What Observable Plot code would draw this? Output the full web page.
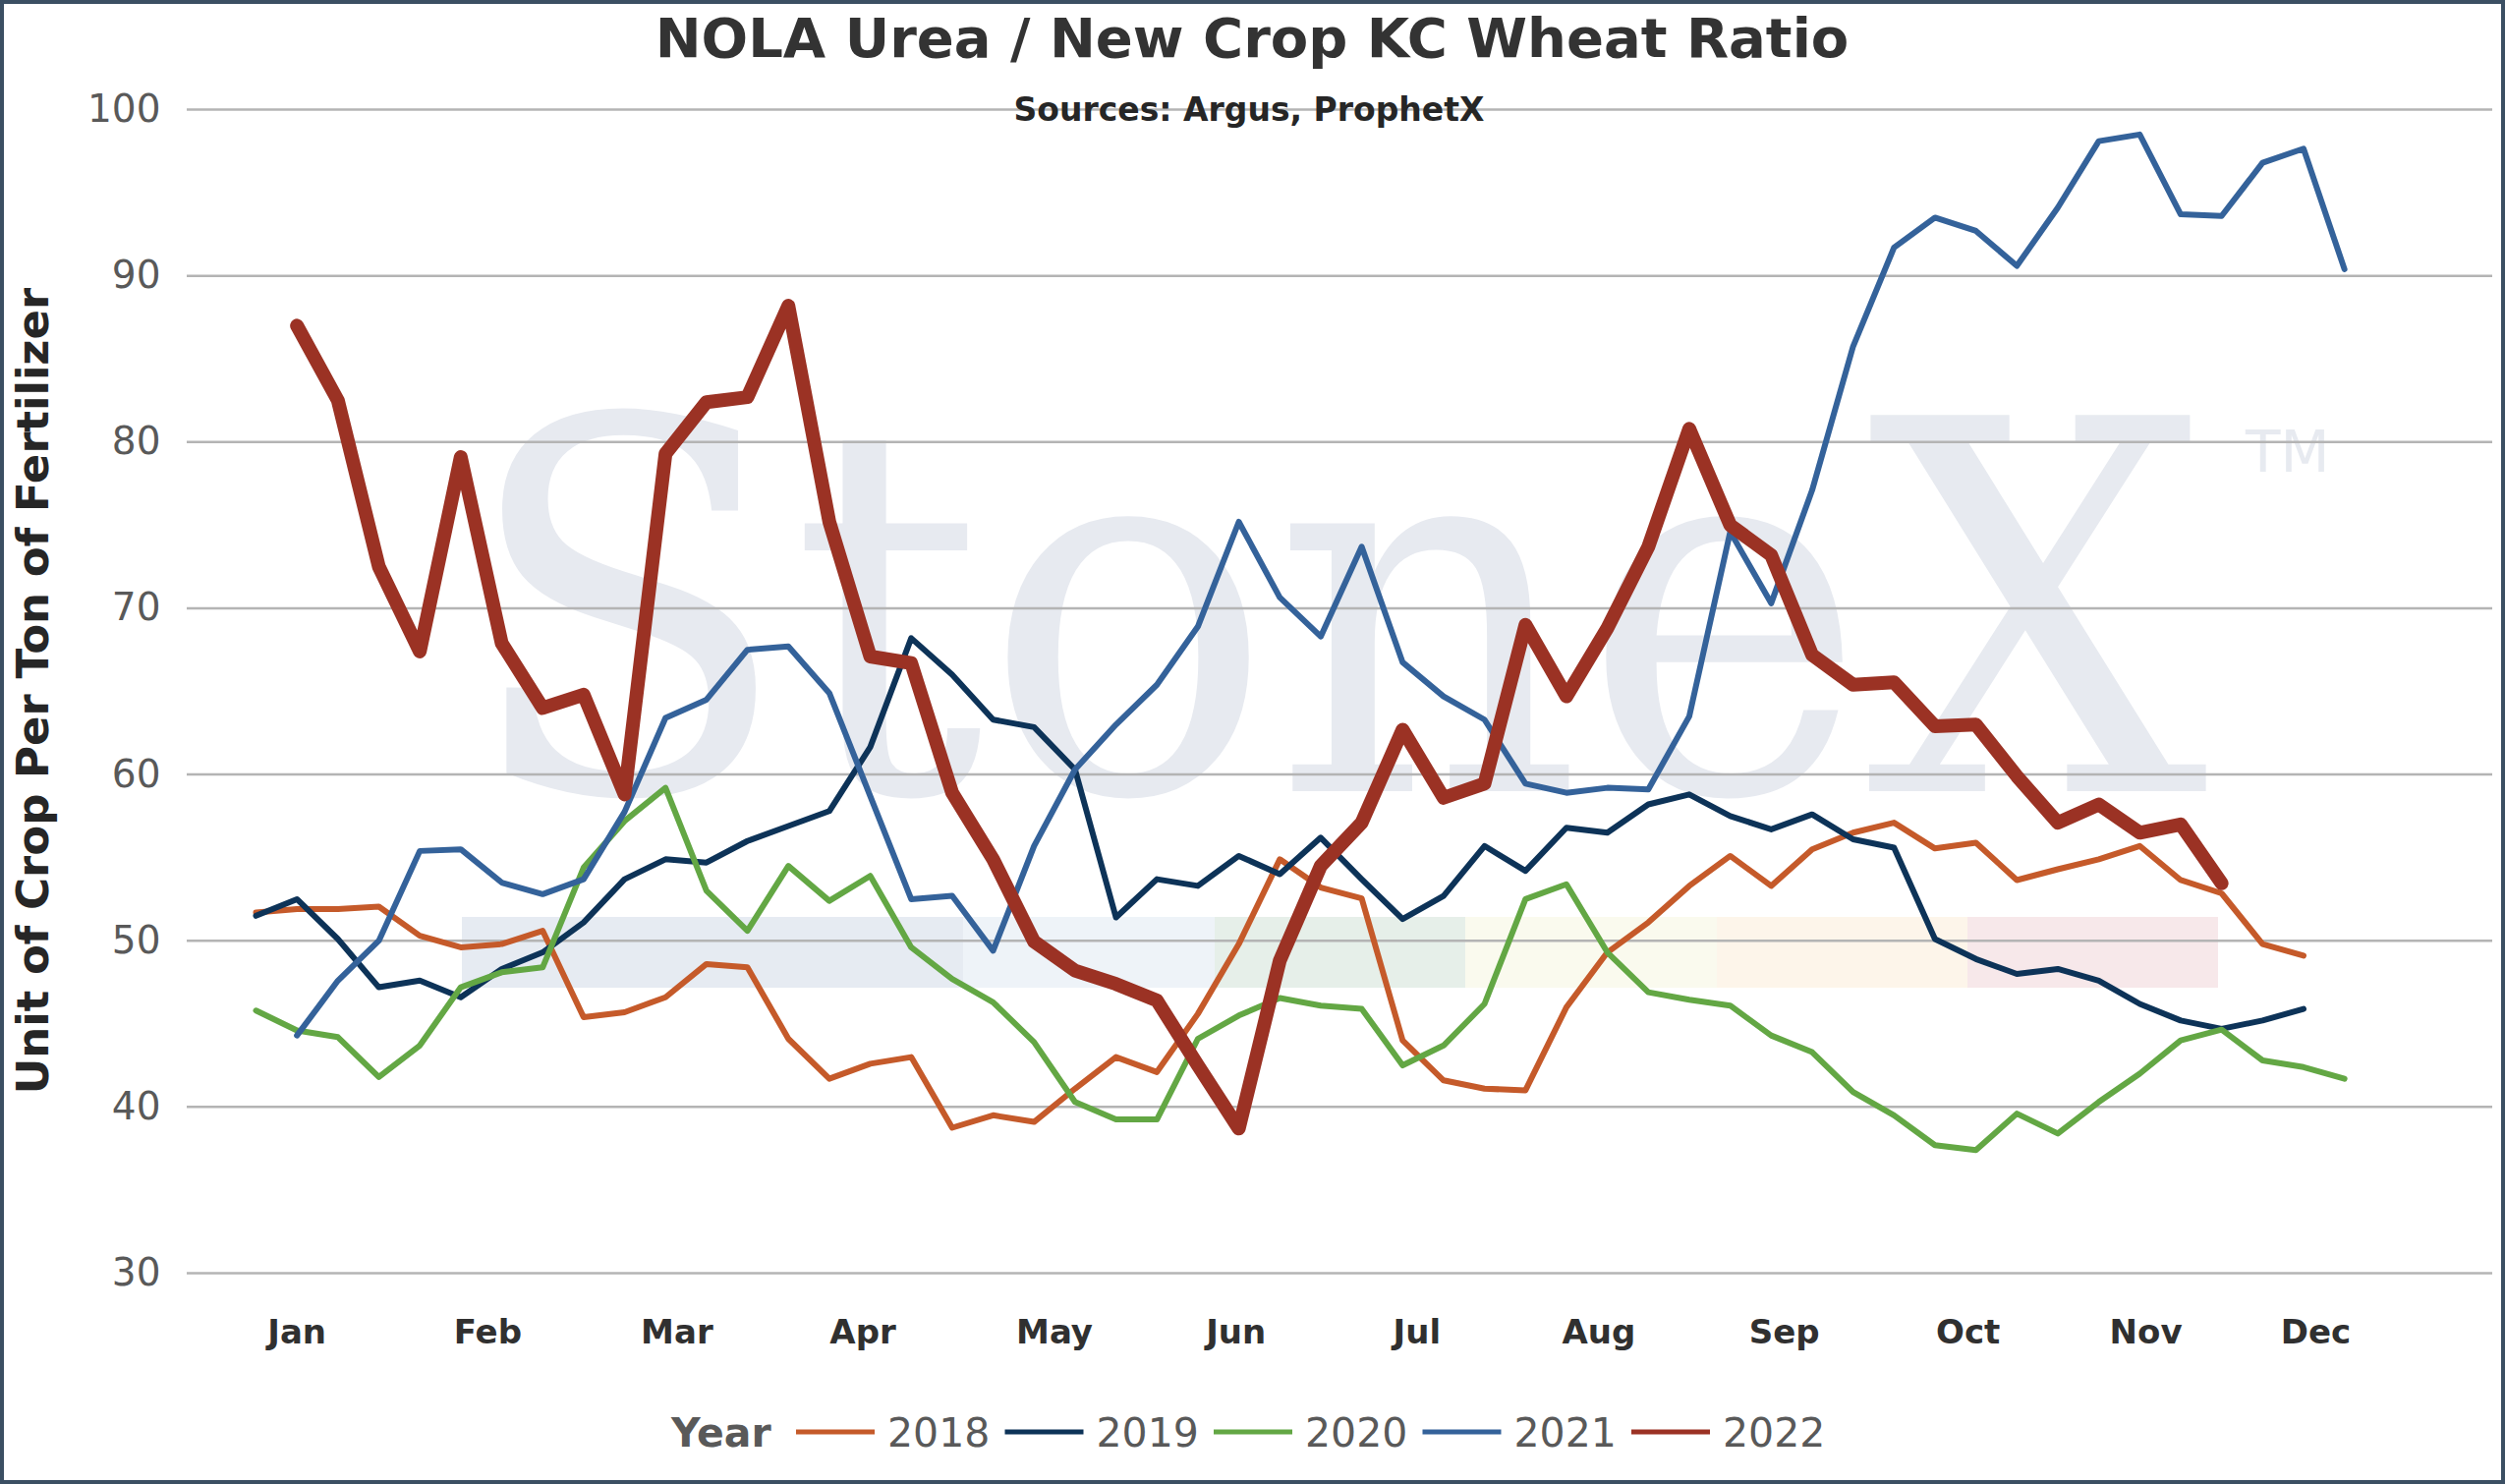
<!DOCTYPE html>
<html>
<head>
<meta charset="utf-8">
<script src="https://cdn.jsdelivr.net/npm/d3@7"></script>
<script src="https://cdn.jsdelivr.net/npm/@observablehq/plot@0.6"></script>
<style>
  html, body { margin: 0; padding: 0; background: #ffffff; }
  #chart { position: relative; width: 2549px; height: 1510px; overflow: hidden; background: #ffffff;
           font-family: "DejaVu Sans", Verdana, sans-serif; }
  #border { position: absolute; left: 0; top: 0; width: 2549px; height: 1510px; box-sizing: border-box;
            border: 4px solid #3b4f63; pointer-events: none; }
</style>
</head>
<body>
<div id="chart"></div>
<script>
// ---------------- data ----------------
const years  = ["2018", "2019", "2020", "2021", "2022"];
const colors = ["#c55a2a", "#0d3358", "#63a744", "#34629a", "#9b3224"];

// weekly values, index 0..51 (null = no value)
const v2018 = [51.7, 51.9, 51.9, 52.05, 50.3, 49.6, 49.8, 50.6, 45.4, 45.7,
               46.6, 48.6, 48.4, 44.1, 41.7, 42.6, 43.0, 38.75, 39.5, 39.1,
               41.1, 43.0, 42.1, 45.6, 49.8, 54.9, 53.2, 52.55, 44.0, 41.6,
               41.1, 41.0, 46.0, 49.3, 51.1, 53.3, 55.1, 53.3, 55.5, 56.5,
               57.1, 55.55, 55.9, 53.65, 54.3, 54.9, 55.7, 53.65, 52.85, 49.8,
               49.1, null];
const v2019 = [51.5, 52.5, 50.1, 47.2, 47.6, 46.6, 48.3, 49.3, 51.1, 53.7,
               54.9, 54.7, 56.0, 56.9, 57.8, 61.65, 68.2, 66.0, 63.3, 62.85,
               60.3, 51.4, 53.7, 53.3, 55.1, 54.0, 56.2, 53.7, 51.3, 52.7,
               55.7, 54.2, 56.8, 56.5, 58.2, 58.8, 57.5, 56.7, 57.6, 56.1,
               55.6, 50.1, 48.9, 48.0, 48.3, 47.6, 46.2, 45.2, 44.7, 45.2,
               45.9, null];
const v2020 = [45.8, 44.6, 44.2, 41.8, 43.7, 47.2, 48.1, 48.4, 54.4, 57.2,
               59.2, 53.0, 50.6, 54.5, 52.4, 53.9, 49.6, 47.7, 46.3, 43.9,
               40.3, 39.25, 39.25, 44.1, 45.5, 46.55, 46.1, 45.9, 42.5, 43.7,
               46.2, 52.5, 53.4, 49.3, 46.9, 46.45, 46.1, 44.3, 43.3, 40.9,
               39.5, 37.7, 37.4, 39.6, 38.4, 40.3, 42.0, 44.0, 44.65, 42.8,
               42.4, 41.7];
const v2021 = [null, 44.3, 47.6, 50.0, 55.4, 55.5, 53.5, 52.8, 53.7, 57.75,
               63.4, 64.5, 67.5, 67.7, 64.9, 58.7, 52.5, 52.7, 49.4, 55.7,
               60.3, 63.0, 65.4, 68.9, 75.2, 70.65, 68.3, 73.7, 66.75, 64.7,
               63.3, 59.45, 58.9, 59.2, 59.1, 63.5, 74.6, 70.3, 77.1, 85.75,
               91.7, 93.5, 92.7, 90.6, 94.1, 98.1, 98.5, 93.7, 93.6, 96.8,
               97.65, 90.4];
const v2022 = [null, 87.0, 82.5, 72.5, 67.4, 79.1, 67.9, 64.0, 64.8, 58.8,
               79.3, 82.4, 82.7, 88.2, 75.2, 67.1, 66.7, 58.9, 54.9, 49.95,
               48.2, 47.4, 46.4, 42.5, 38.7, 48.8, 54.5, 57.1, 62.7, 58.6,
               59.45, 69.0, 64.7, 68.8, 73.7, 80.8, 75.0, 73.2, 67.2, 65.4,
               65.55, 62.9, 63.0, 59.9, 57.1, 58.2, 56.5, 57.0, 53.45, null,
               null, null];

const months    = ["Jan", "Feb", "Mar", "Apr", "May", "Jun", "Jul", "Aug", "Sep", "Oct", "Nov", "Dec"];
const monthWeek = [1.0, 5.66, 10.28, 14.82, 19.5, 23.93, 28.35, 32.79, 37.32, 41.81, 46.15, 50.3];
const yTicks    = [30, 40, 50, 60, 70, 80, 90, 100];

const seriesValues = [v2018, v2019, v2020, v2021, v2022];

// ---------------- table ----------------
const rows = [];
years.forEach((yr, k) => {
  seriesValues[k].forEach((v, i) => {
    if (v != null) rows.push({year: yr, week: i, value: v});
  });
});

const chart = document.getElementById("chart");

// ---------------- background watermark (decoration) ----------------
const bg = `
<svg width="2549" height="1510" xmlns="http://www.w3.org/2000/svg" style="position:absolute;left:0;top:0">
  <g transform="translate(470,805) scale(1,1.08)">
    <text x="0" y="0" font-family="DejaVu Serif, serif" font-size="486" fill="#e7eaf0"
          textLength="1777" lengthAdjust="spacingAndGlyphs">StoneX</text>
  </g>
  <text x="2285" y="480" font-family="DejaVu Sans, sans-serif" font-size="58" fill="#e7eaf0">TM</text>
  <rect x="470"  y="933" width="510" height="72" fill="#e6ebf2"/>
  <rect x="980"  y="933" width="256" height="72" fill="#eef3f8"/>
  <rect x="1236" y="933" width="255" height="72" fill="#e6efe9"/>
  <rect x="1491" y="933" width="256" height="72" fill="#fafaee"/>
  <rect x="1747" y="933" width="255" height="72" fill="#fdf5ea"/>
  <rect x="2002" y="933" width="255" height="72" fill="#f7e8ea"/>
</svg>`;
chart.insertAdjacentHTML("beforeend", bg);

// ---------------- plot ----------------
const plot = Plot.plot({
  width: 2549,
  height: 1400,
  marginLeft: 190,
  marginRight: 13,
  marginTop: 111,
  marginBottom: 105,
  style: {background: "transparent", fontFamily: "DejaVu Sans, Verdana, sans-serif", overflow: "visible"},
  x: {domain: [-1.68, 54.62]},
  y: {domain: [30, 100]},
  color: {domain: years, range: colors},
  marks: [
    Plot.gridY(yTicks, {stroke: "#b4b4b4", strokeWidth: 2.5, strokeOpacity: 1}),
    Plot.axisY(yTicks, {tickSize: 0, tickPadding: 27, fontSize: 39, fill: "#595959", label: null}),
    Plot.axisX(monthWeek, {
      tickSize: 0, tickPadding: 47, fontSize: 34, fontWeight: "bold", fill: "#303030", label: null,
      tickFormat: d => months[monthWeek.indexOf(d)]
    }),
    ...years.map(yr => Plot.line(rows.filter(r => r.year === yr), {
      x: "week", y: "value", stroke: "year",
      strokeWidth: yr === "2022" ? 14 : 6,
      strokeLinejoin: "round", strokeLinecap: "round"
    }))
  ]
});
plot.style.position = "absolute";
plot.style.left = "0px";
plot.style.top = "0px";
chart.appendChild(plot);

// ---------------- titles, axis title, legend ----------------
let legend = `<text x="683" y="1472" font-size="41" font-weight="bold" fill="#595959">Year</text>`;
years.forEach((yr, k) => {
  const x0 = 810 + k * 212.5;
  legend += `<line x1="${x0}" x2="${x0 + 80}" y1="1457" y2="1457" stroke="${colors[k]}" stroke-width="5"/>`;
  legend += `<text x="${x0 + 93}" y="1472" font-size="41" fill="#595959">${yr}</text>`;
});

const overlay = `
<svg width="2549" height="1510" xmlns="http://www.w3.org/2000/svg"
     style="position:absolute;left:0;top:0;pointer-events:none" font-family="DejaVu Sans, Verdana, sans-serif">
  <text x="1274" y="58" text-anchor="middle" font-size="56" font-weight="bold" fill="#333333">NOLA Urea / New Crop KC Wheat Ratio</text>
  <text x="1271" y="123" text-anchor="middle" font-size="33" font-weight="bold" fill="#262626">Sources: Argus, ProphetX</text>
  <text transform="translate(49,703) rotate(-90)" text-anchor="middle" font-size="45" font-weight="bold" fill="#262626">Unit of Crop Per Ton of Fertilizer</text>
  ${legend}
</svg>`;
chart.insertAdjacentHTML("beforeend", overlay);

const border = document.createElement("div");
border.id = "border";
chart.appendChild(border);
</script>
</body>
</html>
